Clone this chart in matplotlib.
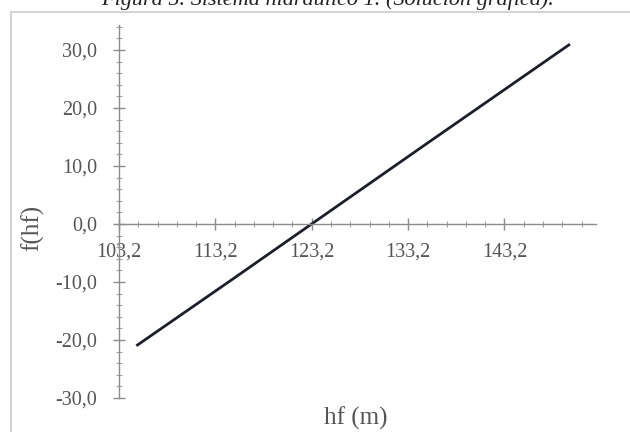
import matplotlib
matplotlib.use("Agg")
import matplotlib.pyplot as plt
from matplotlib.patches import Rectangle
from matplotlib.ticker import MultipleLocator, FixedLocator, FuncFormatter

# Data
hf = [105.0, 115.0, 125.0, 135.0, 150.0]
f_hf = [-21.0, -9.5, 2.1, 13.7, 31.0]
x_ticks = [103.2, 113.2, 123.2, 133.2, 143.2]
y_ticks = [-30, -20, -10, 0, 10, 20, 30]

W, H = 630, 432
fig = plt.figure(figsize=(W / 100, H / 100), dpi=100)
serif = ["Liberation Serif", "DejaVu Serif"]

# caption (cut off at top, as in the reference)
fig.text(0.52, 1 - 5 / H, "Figura 5. Sistema hidráulico 1. (Solución gráfica).",
         ha="center", va="baseline", fontsize=16, style="italic",
         family=serif, color="#222222")

# chart frame
fig.patches.append(Rectangle((11 / W, -0.05), 1.1, 1 - 12 / H + 0.05,
                             transform=fig.transFigure, fill=False,
                             edgecolor="#d4d4d4", lw=1.5))

ax_l, ax_r, ax_t, ax_b = 119, 596, 25, 398
ax = fig.add_axes([ax_l / W, 1 - ax_b / H, (ax_r - ax_l) / W, (ax_b - ax_t) / H])
ax.set_facecolor("none")

ax.plot(hf, f_hf, color="#1b1f2a", lw=2.0, solid_capstyle="butt")

ax.set_xlim(103.2, 152.7)
ax.set_ylim(-30, 34.3)

for s in ["top", "right"]:
    ax.spines[s].set_visible(False)
ax.spines["bottom"].set_position(("data", 0))
ax.spines["left"].set_position(("data", 103.2))
for s in ["bottom", "left"]:
    ax.spines[s].set_color("#8c8c8c")
    ax.spines[s].set_linewidth(1.0)

ax.xaxis.set_major_locator(FixedLocator(x_ticks))
ax.xaxis.set_minor_locator(FixedLocator([103.2 + 2 * i for i in range(25)]))
ax.yaxis.set_major_locator(FixedLocator(y_ticks))
ax.yaxis.set_minor_locator(MultipleLocator(2))

ax.xaxis.set_major_formatter(FuncFormatter(lambda v, p: f"{v:.1f}".replace(".", ",")))
ax.yaxis.set_major_formatter(FuncFormatter(lambda v, p: f"{v:.1f}".replace(".", ",")))

ax.tick_params(axis="both", which="major", direction="inout", length=9,
               width=1.0, color="#8c8c8c", labelcolor="#555555", labelsize=14.5)
ax.tick_params(axis="both", which="minor", direction="inout", length=5,
               width=0.8, color="#a0a0a0")
ax.tick_params(axis="x", which="major", pad=9)
ax.tick_params(axis="y", which="major", pad=11)
for lab in ax.get_xticklabels() + ax.get_yticklabels():
    lab.set_family(serif)

fig.text(33 / W, 1 - 228 / H, "f(hf)", rotation=90, ha="center", va="center",
         fontsize=18, family=serif, color="#555555")
fig.text(356 / W, 1 - 418 / H, "hf (m)", ha="center", va="center",
         fontsize=18, family=serif, color="#555555")

fig.savefig("out.png", dpi=100)
